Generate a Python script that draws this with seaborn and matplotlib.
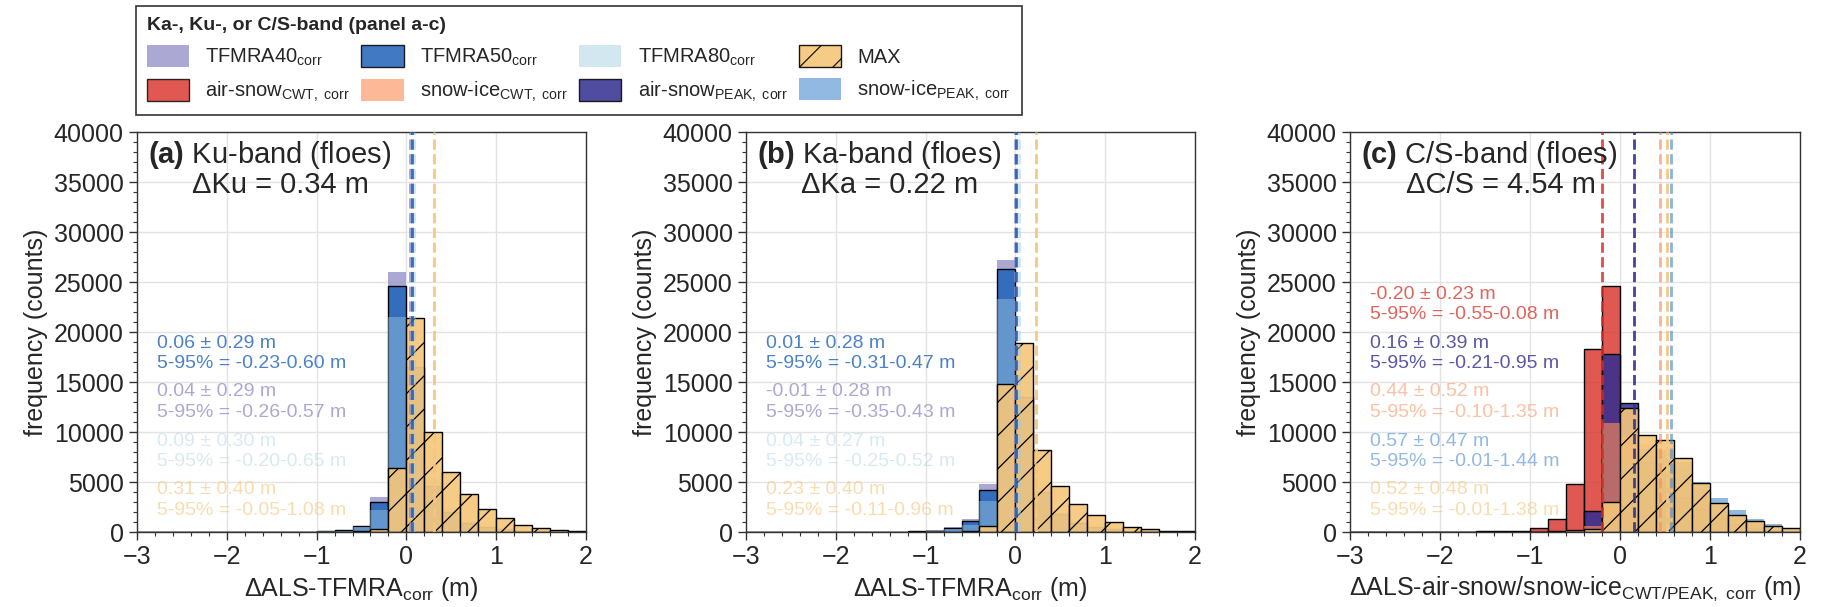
import numpy as np
import matplotlib
matplotlib.use("Agg")
import matplotlib.pyplot as plt
import seaborn as sns
from matplotlib.patches import Patch
from matplotlib.ticker import MultipleLocator

sns.set_theme(style="ticks")
plt.rcParams["font.family"] = ["Liberation Sans", "DejaVu Sans"]
plt.rcParams["mathtext.fontset"] = "custom"
plt.rcParams["mathtext.rm"] = "Liberation Sans"
plt.rcParams["mathtext.it"] = "Liberation Sans:italic"
plt.rcParams["mathtext.bf"] = "Liberation Sans:bold"
plt.rcParams["hatch.linewidth"] = 0.9

# ---------------- data ----------------
bin_edges = [-3.0, -2.8, -2.6, -2.4, -2.2, -2.0, -1.8, -1.6, -1.4, -1.2, -1.0, -0.8, -0.6,
             -0.4, -0.2, 0.0, 0.2, 0.4, 0.6, 0.8, 1.0, 1.2, 1.4, 1.6, 1.8, 2.0]

# panel a: Ku-band
ku_tfmra40 = [0, 0, 0, 0, 0, 0, 0, 10, 20, 40, 90, 220, 650, 3530, 25970, 15500, 4300, 1900, 900, 450, 250, 150, 80, 50, 30]
ku_tfmra50 = [0, 0, 0, 0, 0, 0, 0, 10, 15, 30, 80, 200, 600, 3030, 24630, 16500, 4600, 2000, 950, 480, 260, 150, 80, 50, 30]
ku_tfmra80 = [0, 0, 0, 0, 0, 0, 0, 0, 0, 20, 60, 150, 500, 2200, 21530, 18000, 5500, 2400, 1100, 550, 300, 170, 90, 60, 35]
ku_max = [0, 0, 0, 0, 0, 0, 0, 0, 0, 0, 0, 20, 60, 330, 6430, 21450, 10030, 6030, 3770, 2300, 1370, 700, 370, 250, 150]

# panel b: Ka-band
ka_tfmra40 = [0, 0, 0, 0, 0, 0, 0, 20, 40, 80, 170, 500, 1330, 4830, 27200, 13000, 3800, 1700, 850, 450, 250, 140, 80, 50, 30]
ka_tfmra50 = [0, 0, 0, 0, 0, 0, 0, 15, 30, 70, 150, 420, 1070, 4170, 26300, 13500, 4000, 1800, 900, 480, 260, 150, 90, 50, 30]
ka_tfmra80 = [0, 0, 0, 0, 0, 0, 0, 0, 20, 50, 110, 300, 730, 3070, 23300, 16000, 4800, 2000, 1000, 520, 280, 160, 90, 50, 30]
ka_max = [0, 0, 0, 0, 0, 0, 0, 0, 0, 0, 0, 30, 100, 630, 14800, 18870, 8170, 4570, 2800, 1730, 1000, 500, 300, 150, 80]

# panel c: C/S-band
cs_as_cwt = [0, 0, 0, 0, 0, 0, 30, 60, 100, 150, 430, 1270, 4770, 18270, 24600, 2500, 600, 200, 80, 40, 20, 0, 0, 0, 0]
cs_as_peak = [0, 0, 0, 0, 0, 0, 0, 0, 0, 0, 50, 120, 250, 2100, 17770, 12870, 7000, 5000, 3500, 2300, 1400, 800, 450, 250, 150]
cs_si_cwt = [0, 0, 0, 0, 0, 0, 0, 0, 0, 0, 0, 0, 100, 600, 10870, 9500, 8800, 8000, 6500, 4300, 2700, 1600, 900, 500, 300]
cs_si_peak = [0, 0, 0, 0, 0, 0, 0, 0, 0, 0, 0, 0, 0, 200, 1500, 7000, 8300, 8200, 7000, 5000, 3400, 2170, 1300, 830, 400]
cs_max = [0, 0, 0, 0, 0, 0, 0, 0, 0, 0, 0, 0, 50, 300, 2970, 12430, 9670, 9230, 7400, 4900, 2900, 1670, 1070, 630, 430]

# statistics (mean, std, p5, p95) in annotation order
ku_stats = [(0.06, 0.29, -0.23, 0.60), (0.04, 0.29, -0.26, 0.57), (0.09, 0.30, -0.20, 0.65), (0.31, 0.40, -0.05, 1.08)]
ka_stats = [(0.01, 0.28, -0.31, 0.47), (-0.01, 0.28, -0.35, 0.43), (0.04, 0.27, -0.25, 0.52), (0.23, 0.40, -0.11, 0.96)]
cs_stats = [(-0.20, 0.23, -0.55, 0.08), (0.16, 0.39, -0.21, 0.95), (0.44, 0.52, -0.10, 1.35),
            (0.57, 0.47, -0.01, 1.44), (0.52, 0.48, -0.01, 1.38)]

panel_letters = ["(a)", "(b)", "(c)"]
panel_bands = ["Ku-band (floes)", "Ka-band (floes)", "C/S-band (floes)"]
delta_names = ["Ku", "Ka", "C/S"]
delta_values = [0.34, 0.22, 4.54]
xlabels = [r"ΔALS-TFMRA$_{\mathrm{corr}}$ (m)", r"ΔALS-TFMRA$_{\mathrm{corr}}$ (m)",
           r"ΔALS-air-snow/snow-ice$_{\mathrm{CWT/PEAK,\ corr}}$ (m)"]

# ---------------- styles ----------------
sty = {
    "tfmra40": dict(color="#8f8bc6", alpha=0.75, ec="none", hatch=None, talpha=0.75),
    "tfmra50": dict(color="#1f63b8", alpha=0.85, ec="black", hatch=None, talpha=0.8),
    "tfmra80": dict(color="#9ecae1", alpha=0.45, ec="none", hatch=None, talpha=0.4),
    "max": dict(color="#f6c679", alpha=0.9, ec="black", hatch="/", talpha=0.6),
    "as_cwt": dict(color="#d73027", alpha=0.8, ec="black", hatch=None, talpha=0.75),
    "si_cwt": dict(color="#fc8d59", alpha=0.62, ec="none", hatch=None, talpha=0.55),
    "as_peak": dict(color="#312e91", alpha=0.85, ec="black", hatch=None, talpha=0.8),
    "si_peak": dict(color="#4a8bd0", alpha=0.6, ec="none", hatch=None, talpha=0.6),
}

W, H = 1821, 607
fig = plt.figure(figsize=(W / 100, H / 100), dpi=100)
lefts = [137, 746, 1350]
widths = [449, 449, 450]
axes = [fig.add_axes([l / W, (H - 532) / H, w / W, 400 / H]) for l, w in zip(lefts, widths)]

centers = [(bin_edges[i] + bin_edges[i + 1]) / 2 for i in range(len(bin_edges) - 1)]

panels = [
    [("tfmra40", ku_tfmra40), ("tfmra50", ku_tfmra50), ("tfmra80", ku_tfmra80), ("max", ku_max)],
    [("tfmra40", ka_tfmra40), ("tfmra50", ka_tfmra50), ("tfmra80", ka_tfmra80), ("max", ka_max)],
    [("as_cwt", cs_as_cwt), ("as_peak", cs_as_peak), ("si_cwt", cs_si_cwt), ("si_peak", cs_si_peak), ("max", cs_max)],
]
annot_order = [["tfmra50", "tfmra40", "tfmra80", "max"],
               ["tfmra50", "tfmra40", "tfmra80", "max"],
               ["as_cwt", "as_peak", "si_cwt", "si_peak", "max"]]
stats_all = [ku_stats, ka_stats, cs_stats]

for k, ax in enumerate(axes):
    ax.set_axisbelow(True)
    ax.grid(True, color="#e3e3e3", lw=1.0)
    for key, counts in panels[k]:
        s = sty[key]
        kw = dict(color=s["color"], alpha=s["alpha"], edgecolor=s["ec"],
                  linewidth=1.0 if s["ec"] != "none" else 0)
        if s["hatch"]:
            kw["hatch"] = s["hatch"]
        sns.histplot(x=centers, weights=counts, bins=bin_edges, ax=ax, stat="count", **kw)
    # mean lines and annotations
    order = annot_order[k]
    st = stats_all[k]
    line_order = ["tfmra40", "tfmra80", "tfmra50", "max"] if k < 2 else ["as_cwt", "as_peak", "si_cwt", "max", "si_peak"]
    for key in line_order:
        j = order.index(key)
        s = sty[key]
        ax.axvline(st[j][0], color=s["color"], alpha=min(1.0, s["alpha"] + 0.05), ls="--", lw=2.0, zorder=5)
    n = len(order)
    for j, key in enumerate(order):
        m, sd, p5, p95 = st[j]
        g = n - 1 - j
        y1 = 0.105 + 0.1225 * g
        s = sty[key]
        ax.text(0.045, y1, f"{m:.2f} ± {sd:.2f} m", transform=ax.transAxes, color=s["color"],
                alpha=s["talpha"], fontsize=14, va="center", ha="left", zorder=6)
        ax.text(0.045, y1 - 0.0515, f"5-95% = {p5:.2f}-{p95:.2f} m", transform=ax.transAxes,
                color=s["color"], alpha=s["talpha"], fontsize=14, va="center", ha="left", zorder=6)
    # titles
    ax.text(0.025, 0.9425, r"$\mathbf{" + panel_letters[k] + r"}$ " + panel_bands[k],
            transform=ax.transAxes, fontsize=21, va="center", ha="left", zorder=7)
    ax.text(0.32 if k < 2 else 0.335, 0.8675, f"Δ{delta_names[k]} = {delta_values[k]:.2f} m",
            transform=ax.transAxes, fontsize=21, va="center", ha="center", zorder=7)

    ax.set_xlim(-3, 2)
    ax.set_ylim(0, 40000)
    ax.xaxis.set_major_locator(MultipleLocator(1))
    ax.xaxis.set_minor_locator(MultipleLocator(0.2))
    ax.yaxis.set_major_locator(MultipleLocator(5000))
    ax.yaxis.set_minor_locator(MultipleLocator(1000))
    ax.tick_params(axis="both", which="major", labelsize=18, length=6, width=1, color="#333333")
    ax.tick_params(axis="both", which="minor", length=3, width=0.8, color="#333333")
    ax.set_xlabel(xlabels[k], fontsize=18)
    ax.set_ylabel("frequency (counts)", fontsize=18)
    for sp in ax.spines.values():
        sp.set_color("#333333")
        sp.set_linewidth(1.0)

# ---------------- legend ----------------
leg_items = [
    ("tfmra40", r"TFMRA40$_{\mathrm{corr}}$"),
    ("as_cwt", r"air-snow$_{\mathrm{CWT,\ corr}}$"),
    ("tfmra50", r"TFMRA50$_{\mathrm{corr}}$"),
    ("si_cwt", r"snow-ice$_{\mathrm{CWT,\ corr}}$"),
    ("tfmra80", r"TFMRA80$_{\mathrm{corr}}$"),
    ("as_peak", r"air-snow$_{\mathrm{PEAK,\ corr}}$"),
    ("max", "MAX"),
    ("si_peak", r"snow-ice$_{\mathrm{PEAK,\ corr}}$"),
]
handles = []
for key, lab in leg_items:
    s = sty[key]
    handles.append(Patch(facecolor=s["color"], alpha=s["alpha"],
                         edgecolor=s["ec"], hatch=s["hatch"], label=lab,
                         linewidth=1.0 if s["ec"] != "none" else 0))
leg = fig.legend(handles=handles, loc="upper left",
                 bbox_to_anchor=(136 / W, 1 - 6 / H, (1022 - 136) / W, 0), mode="expand",
                 ncol=4, title="Ka-, Ku-, or C/S-band (panel a-c)", alignment="left",
                 fontsize=14.5, title_fontproperties={"weight": "bold", "size": 14},
                 frameon=True, fancybox=False, edgecolor="#333333", framealpha=1,
                 handlelength=2.1, handleheight=1.3, borderaxespad=0, labelspacing=0.55,
                 borderpad=0.55)
leg.get_frame().set_linewidth(1.2)

fig.savefig("out.png", dpi=100)
